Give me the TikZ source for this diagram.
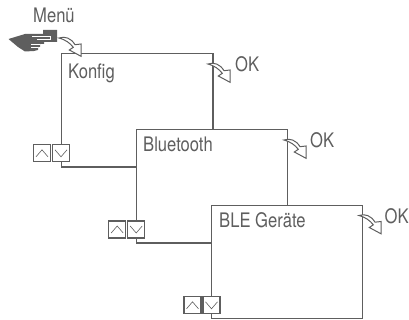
\documentclass[tikz,border=0pt]{standalone}
\usepackage{fontspec}
\setmainfont{TeX Gyre Heros}[FakeStretch=.83]
\definecolor{ink}{HTML}{5E5E5E}
\tikzset{
  x=1pt,y=-1pt,
  panel/.style={draw=ink,line width=1.1pt,fill=white,inner sep=0},
  lab/.style={text=ink,font=\fontsize{20}{22}\selectfont,anchor=base west,inner sep=0},
  btn/.style={draw=ink,line width=1.05pt,fill=white},
  chev/.style={draw=ink,line width=.6pt},
  turn/.style={draw=ink,line width=1pt,fill=white,line join=miter},
  turnarrow/.pic={\path[turn] (0,0) .. controls (6,-2) and (12,0) .. (16,6.7) -- (22,6) -- (22,18.3) -- (10.3,12) -- (14.3,9.3) .. controls (11,5) and (6,1.5) .. (0,0) -- cycle;},
  updown/.pic={
    \path[btn] (0,0) rectangle (17,17);
    \path[btn] (19,0) rectangle (36,17);
    \path[chev] (2.5,12) -- (8.5,5) -- (14.5,12);
    \path[chev] (21.5,5) -- (27.5,12) -- (33.5,5);
  }
}
\begin{document}
\begin{tikzpicture}
\useasboundingbox (0,0) rectangle (409,320);
\coordinate (k1) at (61.5,53.7); \coordinate (k2) at (213,167);
\coordinate (b1) at (136.3,129.7); \coordinate (b2) at (287.5,243);
\coordinate (g1) at (211.7,205.7); \coordinate (g2) at (362.7,318.7);
\path[panel] (k1) rectangle (k2);
\path[panel] (b1) rectangle (b2);
\path[panel] (g1) rectangle (g2);
\node[lab] (tk) at (68,79) {Konfig};
\node[lab] (tb) at (143,152) {Bluetooth};
\node[lab] (tg) at (219,228) {BLE Geräte};
\node[lab] (tm) at (33,23) {Menü};
\node[lab] (o1) at (235,72) {OK};
\node[lab] (o2) at (310,148) {OK};
\node[lab] (o3) at (384.5,223) {OK};
\pic at (33.5,144.8) {updown};
\pic at (108.7,221) {updown};
\pic at (184,296.8) {updown};
\pic at (59,38) {turnarrow};
\pic at (208,64) {turnarrow};
\pic at (284,140) {turnarrow};
\pic at (359,215.5) {turnarrow};
% hand
\fill[ink] (8.5,39) -- (25,34) -- (43,34) -- (43,30) -- (57,30) -- (57,42) -- (44,42) -- (44,44) -- (40,44) -- (40,47) -- (38,47) -- (38,50) -- (34,51) -- (25,51.5) -- (18,47) -- cycle;
\draw[white,line width=.8pt] (32,36) -- (50,36) -- (50,39) -- (37,39);
\draw[white,line width=.7pt] (31,44.3) -- (40,44.3);
\draw[white,line width=.7pt] (31,47.5) -- (38,47.5);
\end{tikzpicture}
\end{document}
